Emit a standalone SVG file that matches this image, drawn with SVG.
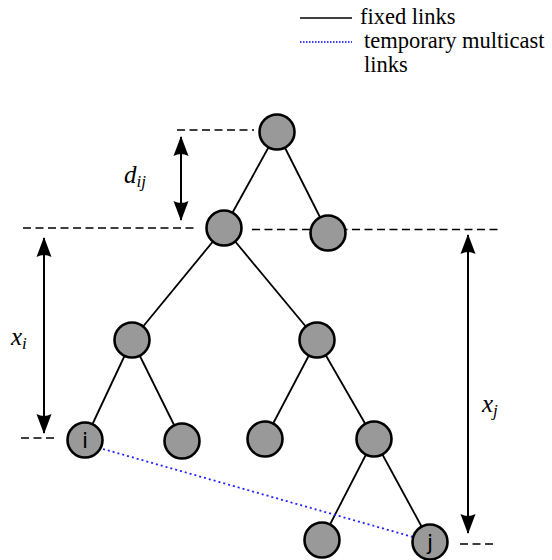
<svg xmlns="http://www.w3.org/2000/svg" width="552" height="560" viewBox="0 0 552 560">
<defs>
<marker id="ah" markerUnits="userSpaceOnUse" markerWidth="20" markerHeight="16" refX="19" refY="7.5" orient="auto-start-reverse" viewBox="0 0 20 15">
<path d="M0,0 L20,7.5 L0,15 Q4,7.5 0,0 z" fill="#000"/>
</marker>
</defs>
<style>
.edge{stroke:#000;stroke-width:1.8;fill:none}
.dash{stroke:#000;stroke-width:1.6;stroke-dasharray:8 4.5;fill:none}
.dim{stroke:#000;stroke-width:2;fill:none;marker-start:url(#ah);marker-end:url(#ah)}
.node{fill:#999;stroke:#000;stroke-width:2.6}
.leg{font-family:"Liberation Serif",serif;font-size:22.5px;fill:#000}
.math{font-family:"Liberation Serif","DejaVu Serif",serif;font-style:italic;fill:#000}
.lbl{font-family:"DejaVu Sans","Liberation Sans",sans-serif;font-size:22px;fill:#000}
</style>
<g id="legend">
<line x1="300" y1="18" x2="352" y2="18" stroke="#000" stroke-width="1.6"/>
<text class="leg" x="360" y="24">fixed links</text>
<line x1="300" y1="42" x2="352" y2="42" stroke="#00f" stroke-width="1.4" stroke-dasharray="1.5 1.5"/>
<text class="leg" x="364" y="48">temporary multicast</text>
<text class="leg" x="364" y="72">links</text>
</g>
<g id="guides">
<line class="dash" x1="177" y1="130" x2="254" y2="130"/>
<line class="dash" x1="23" y1="228" x2="196" y2="228"/>
<line class="dash" x1="252" y1="229.5" x2="498" y2="229.5"/>
<line class="dash" x1="21" y1="438" x2="56" y2="438"/>
<line class="dash" x1="460" y1="544" x2="495" y2="544"/>
<line class="dim" x1="181" y1="137" x2="181" y2="220"/>
<line class="dim" x1="44" y1="238" x2="44" y2="433"/>
<line class="dim" x1="468" y1="235" x2="468" y2="533"/>
<text class="math" x="124" y="183" font-size="25">d<tspan font-size="17" dy="4">ij</tspan></text>
<text class="math" x="11" y="345" font-size="25">x<tspan font-size="17" dy="4">i</tspan></text>
<text class="math" x="482" y="412" font-size="25">x<tspan font-size="17" dy="4">j</tspan></text>
</g>
<g id="connectors">
<line class="edge" x1="277" y1="132" x2="224" y2="228"/>
<line class="edge" x1="277" y1="132" x2="328" y2="233"/>
<line class="edge" x1="224" y1="228" x2="132" y2="340"/>
<line class="edge" x1="224" y1="228" x2="317" y2="340"/>
<line class="edge" x1="132" y1="340" x2="85" y2="440"/>
<line class="edge" x1="132" y1="340" x2="182" y2="441"/>
<line class="edge" x1="317" y1="340" x2="265" y2="439"/>
<line class="edge" x1="317" y1="340" x2="374" y2="439"/>
<line class="edge" x1="374" y1="439" x2="322" y2="540"/>
<line class="edge" x1="374" y1="439" x2="430" y2="542"/>
<line x1="103" y1="449" x2="413" y2="537" stroke="#22f" stroke-width="1.8" stroke-dasharray="2 3"/>
</g>
<g id="n-root"><circle class="node" cx="277" cy="132" r="17.5"/></g>
<g id="n-l1a"><circle class="node" cx="224" cy="228" r="17.5"/></g>
<g id="n-l1b"><circle class="node" cx="328" cy="233" r="17.5"/></g>
<g id="n-l2a"><circle class="node" cx="132" cy="340" r="17.5"/></g>
<g id="n-l2b"><circle class="node" cx="317" cy="340" r="17.5"/></g>
<g id="n-i"><circle class="node" cx="85" cy="440" r="17.5"/><text class="lbl" x="85" y="448" text-anchor="middle">i</text></g>
<g id="n-l3b"><circle class="node" cx="182" cy="441" r="17.5"/></g>
<g id="n-l3c"><circle class="node" cx="265" cy="439" r="17.5"/></g>
<g id="n-l3d"><circle class="node" cx="374" cy="439" r="17.5"/></g>
<g id="n-l4a"><circle class="node" cx="322" cy="540" r="17.5"/></g>
<g id="n-j"><circle class="node" cx="430" cy="542" r="17.5"/><text class="lbl" x="430" y="550" text-anchor="middle">j</text></g>
</svg>
